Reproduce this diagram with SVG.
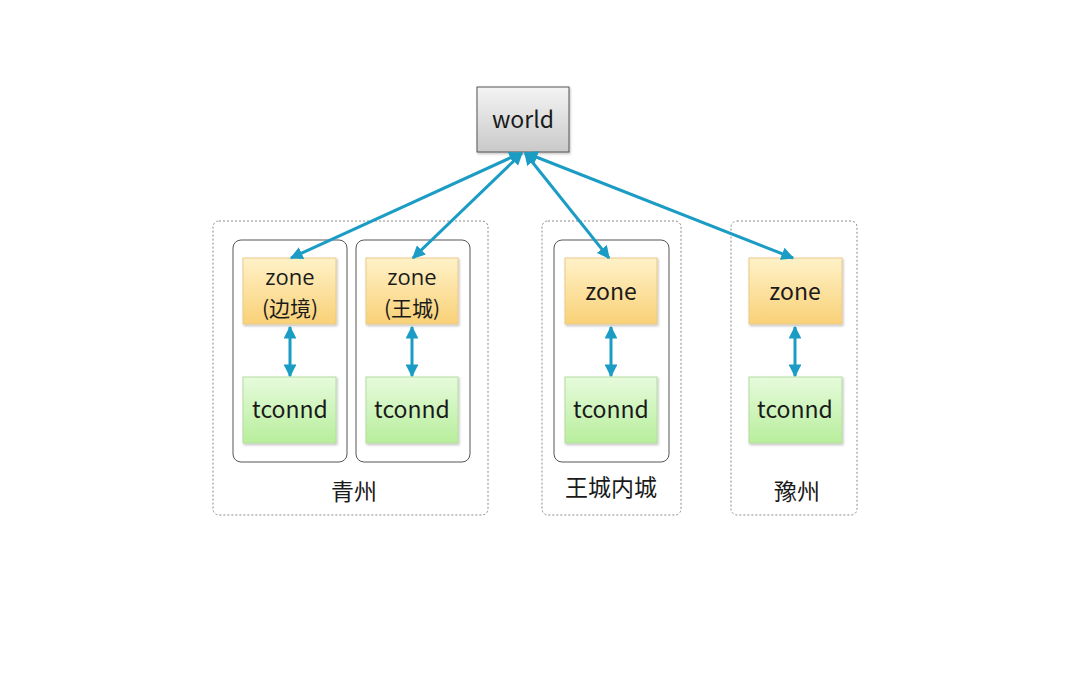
<svg xmlns="http://www.w3.org/2000/svg" width="1080" height="675" viewBox="0 0 1080 675">
<defs>
<linearGradient id="gWorld" x1="0" y1="0" x2="0" y2="1"><stop offset="0" stop-color="#f4f4f4"/><stop offset="1" stop-color="#c9c9c9"/></linearGradient>
<linearGradient id="gZone" x1="0" y1="0" x2="0" y2="1"><stop offset="0" stop-color="#fff2c8"/><stop offset="1" stop-color="#f9d177"/></linearGradient>
<linearGradient id="gT" x1="0" y1="0" x2="0" y2="1"><stop offset="0" stop-color="#e6fbdc"/><stop offset="1" stop-color="#b8ee9c"/></linearGradient>
<marker id="ah" viewBox="0 0 10 10" refX="9" refY="5" markerWidth="4.3" markerHeight="4.3" orient="auto-start-reverse" markerUnits="strokeWidth"><path d="M0,0 L10,5 L0,10 z" fill="#1b9cc4"/></marker>
<filter id="sh" x="-10%" y="-10%" width="130%" height="130%"><feDropShadow dx="1" dy="1.5" stdDeviation="1" flood-color="#000" flood-opacity="0.25"/></filter>
</defs>
<style>
.t{font-family:"Noto Sans CJK SC","Open Sans",sans-serif;font-size:23px;fill:#1a1a1a;text-anchor:middle}
.t2{font-family:"Open Sans","Noto Sans CJK SC",sans-serif;font-size:22px;fill:#1a1a1a;text-anchor:middle}
.t3{font-family:"Noto Sans CJK SC",sans-serif;font-size:21px;fill:#1a1a1a;text-anchor:middle}
.lbl{font-family:"Noto Sans CJK SC",sans-serif;font-size:23px;fill:#1a1a1a;text-anchor:middle}
.dash{fill:#fff;stroke:#8a8a8a;stroke-width:1;stroke-dasharray:2 2}
.inner{fill:#fff;stroke:#555;stroke-width:1}
.zone{fill:url(#gZone);stroke:#e9c98a;stroke-width:1;filter:url(#sh)}
.tc{fill:url(#gT);stroke:#b5dca0;stroke-width:1;filter:url(#sh)}
.c{stroke:#1b9cc4;stroke-width:3;fill:none;marker-start:url(#ah);marker-end:url(#ah)}
</style>
<rect width="1080" height="675" fill="#fff"/>
<g id="region-qingzhou">
<rect class="dash" x="213" y="221" width="275" height="294" rx="6"/>
<text class="lbl" x="354" y="500">青州</text>
</g>
<g id="region-wangcheng">
<rect class="dash" x="542" y="221" width="139" height="294" rx="6"/>
<text class="lbl" x="611" y="496">王城内城</text>
</g>
<g id="region-yuzhou">
<rect class="dash" x="731" y="221" width="126" height="294" rx="6"/>
<text class="lbl" x="797" y="500">豫州</text>
</g>
<g id="group-1"><rect class="inner" x="233" y="240" width="114" height="222" rx="8"/></g>
<g id="group-2"><rect class="inner" x="356" y="240" width="114" height="222" rx="8"/></g>
<g id="group-3"><rect class="inner" x="554" y="240" width="115" height="222" rx="8"/></g>
<g id="world">
<rect x="477" y="87" width="92" height="65" fill="url(#gWorld)" stroke="#555" stroke-width="1" filter="url(#sh)"/>
<text class="t" x="523" y="128">world</text>
</g>
<g id="zone-1"><rect class="zone" x="243" y="258" width="93" height="66"/><text class="t2" x="290" y="285">zone</text><text class="t3" x="290" y="316">(边境)</text></g>
<g id="zone-2"><rect class="zone" x="366" y="258" width="92" height="66"/><text class="t2" x="412" y="285">zone</text><text class="t3" x="412" y="316">(王城)</text></g>
<g id="zone-3"><rect class="zone" x="565" y="258" width="92" height="66"/><text class="t" x="611" y="300">zone</text></g>
<g id="zone-4"><rect class="zone" x="749" y="258" width="93" height="66"/><text class="t" x="795" y="300">zone</text></g>
<g id="tconnd-1"><rect class="tc" x="243" y="377" width="93" height="66"/><text class="t" x="290" y="418">tconnd</text></g>
<g id="tconnd-2"><rect class="tc" x="366" y="377" width="92" height="66"/><text class="t" x="412" y="418">tconnd</text></g>
<g id="tconnd-3"><rect class="tc" x="565" y="377" width="92" height="66"/><text class="t" x="611" y="418">tconnd</text></g>
<g id="tconnd-4"><rect class="tc" x="749" y="377" width="93" height="66"/><text class="t" x="795" y="418">tconnd</text></g>
<g id="connectors">
<line class="c" x1="521" y1="153" x2="291" y2="258"/>
<line class="c" x1="522" y1="153" x2="413" y2="258"/>
<line class="c" x1="525" y1="153" x2="609" y2="258"/>
<line class="c" x1="526" y1="153" x2="793" y2="258"/>
<line class="c" x1="290" y1="327" x2="290" y2="376"/>
<line class="c" x1="412" y1="327" x2="412" y2="376"/>
<line class="c" x1="611" y1="327" x2="611" y2="376"/>
<line class="c" x1="795" y1="327" x2="795" y2="376"/>
</g>
</svg>
